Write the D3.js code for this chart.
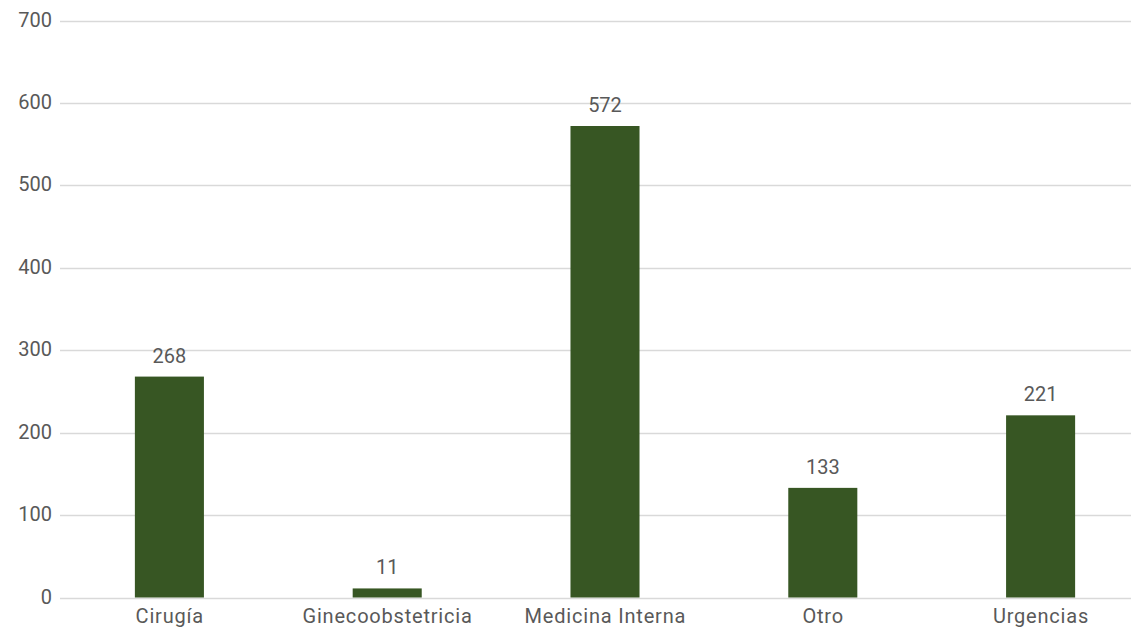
<!DOCTYPE html>
<html>
<head>
<meta charset="utf-8">
<script src="https://cdn.jsdelivr.net/npm/d3@7"></script>
<style>
  html, body { margin: 0; padding: 0; background: #fff; overflow: hidden; }
  svg { display: block; }
  text { font-family: Roboto, "Open Sans", sans-serif; fill: #595959; }
</style>
</head>
<body>
<svg id="chart" width="1131" height="627"></svg>
<script>
const categories = ["Cirugía", "Ginecoobstetricia", "Medicina Interna", "Otro", "Urgencias"];
const values = [268, 11, 572, 133, 221];
const yTicks = [0, 100, 200, 300, 400, 500, 600, 700];

const svg = d3.select("#chart");
const x = d3.scaleBand().domain(categories).range([60.5, 1149.5]).paddingInner(0.683).paddingOuter(0.3415);
const y = d3.scaleLinear().domain([0, 700]).range([597.5, 20.5]);
const fs = 20;

// gridlines
svg.append("g").selectAll("line").data(yTicks).join("line")
  .attr("x1", 60).attr("x2", 1131)
  .attr("y1", d => Math.round(y(d)) + 0.5).attr("y2", d => Math.round(y(d)) + 0.5)
  .attr("stroke", "#d9d9d9").attr("stroke-width", 1.5);

// y labels
svg.append("g").selectAll("text").data(yTicks).join("text")
  .attr("x", 52).attr("y", d => y(d) - 1).attr("dy", "0.35em")
  .attr("text-anchor", "end").attr("font-size", fs).text(d => d);

// bars
svg.append("g").selectAll("rect").data(values).join("rect")
  .attr("x", (d, i) => x(categories[i])).attr("width", x.bandwidth())
  .attr("y", d => y(d)).attr("height", d => y(0) - y(d))
  .attr("fill", "#375623");

// value labels
svg.append("g").selectAll("text").data(values).join("text")
  .attr("x", (d, i) => x(categories[i]) + x.bandwidth() / 2)
  .attr("y", d => y(d) - 14)
  .attr("text-anchor", "middle").attr("font-size", fs).text(d => d);

// category labels
svg.append("g").selectAll("text").data(categories).join("text")
  .attr("x", d => x(d) + x.bandwidth() / 2 + 0.4).attr("y", 623)
  .attr("text-anchor", "middle").attr("font-size", fs)
  .attr("letter-spacing", 0.8).text(d => d);
</script>
</body>
</html>
